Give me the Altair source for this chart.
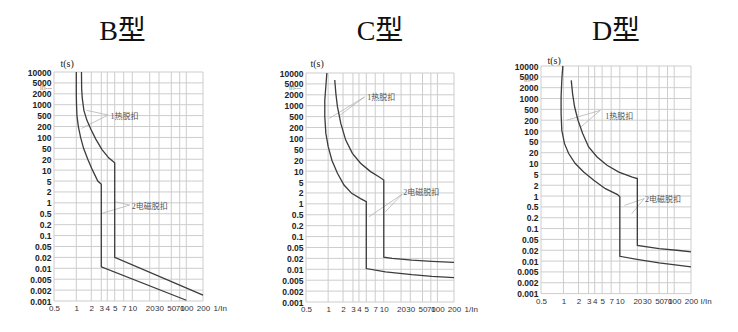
import altair as alt
import pandas as pd

# ---------------- data ----------------
X_TICKS = [0.5, 1, 2, 3, 4, 5, 7, 10, 20, 30, 50, 70, 100, 200]
Y_TICKS = [10000, 5000, 2000, 1000, 500, 200, 100, 50, 20, 10, 5, 2, 1,
           0.5, 0.2, 0.1, 0.05, 0.02, 0.01, 0.005, 0.002, 0.001]

TITLES = ["B型", "C型", "D型"]
X_TITLES = ["1/In", "1/In", "I/In"]
Y_TITLE = "t(s)"
LABEL_THERMAL = "1热脱扣"
LABEL_MAGNETIC = "2电磁脱扣"
IH_LABEL = "Ih---"

# B type curves
B_LOW_X = [1.0, 1.0, 1.01, 1.03, 1.1, 1.22, 1.4, 1.7, 2.1, 2.6, 3.0, 3.0, 100]
B_LOW_T = [10000, 2000, 1000, 500, 200, 100, 50, 20, 10, 5, 3.8, 0.011, 0.00105]
B_UP_X = [1.27, 1.28, 1.32, 1.42, 1.62, 1.95, 2.4, 3.1, 4.2, 5.0, 5.0, 200]
B_UP_T = [10000, 3000, 1500, 700, 350, 170, 90, 45, 22, 16, 0.02, 0.00145]

# C type curves
C_LOW_X = [0.96, 0.93, 0.9, 0.9, 0.93, 1.0, 1.19, 1.54, 2.08, 2.85, 4.2, 5.0, 5.0, 10.7, 32, 74, 200]
C_LOW_T = [10000, 4000, 1430, 500, 140, 60, 20, 8.7, 3.9, 1.95, 1.4, 1.15, 0.0105, 0.0085, 0.0071, 0.0064, 0.0059]
C_UP_X = [1.36, 1.43, 1.54, 1.8, 2.23, 2.93, 4.2, 5.87, 8.15, 10, 10, 14, 32, 74, 200]
C_UP_T = [6400, 2250, 940, 283, 90, 35.6, 16.5, 9.7, 7.0, 5.7, 0.022, 0.02, 0.0179, 0.0165, 0.0155]

# D type curves
D_LOW_X = [0.98, 0.95, 0.93, 0.93, 0.95, 1.05, 1.27, 1.72, 2.46, 3.83, 5.65, 9.1, 10, 10, 21, 50, 123, 200]
D_LOW_T = [10000, 3700, 1100, 350, 105, 43, 19, 10, 5.8, 3.06, 1.6, 1.1, 0.95, 0.0136, 0.011, 0.0089, 0.0076, 0.0069]
D_UP_X = [1.43, 1.52, 1.67, 1.95, 2.36, 3.0, 4.3, 6.0, 9.6, 16.4, 20, 20, 50, 123, 200]
D_UP_T = [3700, 1370, 580, 200, 85, 32.5, 15.2, 9.0, 5.8, 4.0, 3.5, 0.03, 0.023, 0.0197, 0.018]

# annotation anchor values (x = I/In, t = seconds)
B_TEXT_X = [4.4, 9.8]
B_TEXT_T = [440, 0.76]
B_LEAD_X1 = [4.1, 4.1, 9.0, 9.0]
B_LEAD_T1 = [520, 520, 0.87, 0.87]
B_LEAD_X2 = [1.6, 1.28, 5.05, 3.05]
B_LEAD_T2 = [700, 178, 1.07, 0.51]

C_TEXT_X = [5.2, 22]
C_TEXT_T = [1600, 1.95]
C_LEAD_X1 = [4.74, 4.74, 20.9, 20.9]
C_LEAD_T1 = [1740, 1740, 1.83, 1.83]
C_LEAD_X2 = [1.05, 1.64, 5.5, 10.7]
C_LEAD_T2 = [430, 520, 0.42, 0.61]

D_TEXT_X = [5.6, 28]
D_TEXT_T = [263, 0.76]
D_LEAD_X1 = [4.74, 4.74, 27, 27]
D_LEAD_T1 = [460, 460, 0.85, 0.85]
D_LEAD_X2 = [1.17, 2.2, 12, 16]
D_LEAD_T2 = [200, 130, 0.55, 0.28]

IH_T = [3200, 3530, 3720]

# ---------------- style ----------------
X_REL = [0, 22.3, 37.3, 47.3, 53.3, 60.7, 69.7, 78.3, 95.7, 105, 117.3, 125.7, 132.3, 149]
X_FRAC = [r / 149 for r in X_REL]

SERIF = "Liberation Serif, 'Noto Sans CJK SC', serif"
SANS = "Liberation Sans, Arial, sans-serif"
GRID = "#cdcdcd"
CURVE = "#3c3c3c"
LEAD = "#b4b4b4"


def panel(idx, low_x, low_t, up_x, up_t, text_x, text_t,
          lx1, lt1, lx2, lt2, w, h, y0, y1, title_dx, title_offset,
          ts_x, ts_y, ih_dx, xt_gap):
    xs = alt.Scale(type="log", domain=X_TICKS, range=[f * w for f in X_FRAC], nice=False)
    ys = alt.Scale(type="log", domain=Y_TICKS,
                   range=[y0 + i * (y1 - y0) / 21 for i in range(22)], nice=False)

    x_axis = alt.Axis(
        values=X_TICKS, format="~g", grid=False, ticks=False, domain=False,
        labelFont=SANS, labelFontSize=8, labelColor="#333", labelPadding=3,
        labelOverlap=False, labelBound=False, labelFlush=False,
        title=X_TITLES[idx], titleFont=SANS, titleFontSize=8,
        titleFontWeight="normal", titleColor="#333",
        titleX=w + xt_gap, titleY=3, titleAlign="left", titleBaseline="top")
    y_axis = alt.Axis(
        values=Y_TICKS, format="~g", grid=False, ticks=False, domain=False,
        labelFont=SANS, labelFontSize=8.5, labelFontWeight="bold",
        labelColor="#222", labelPadding=3, labelOverlap=False,
        labelBound=False, labelFlush=False,
        title=Y_TITLE, titleAngle=0, titleFont=SERIF, titleFontSize=10,
        titleFontWeight="normal", titleColor="#222",
        titleX=ts_x, titleY=ts_y, titleAlign="left", titleBaseline="middle")

    def X(f):
        return alt.X(f, scale=xs, axis=x_axis)

    def Y(f):
        return alt.Y(f, scale=ys, axis=y_axis)

    vgrid_df = pd.DataFrame({"x": X_TICKS, "ta": Y_TICKS[0], "tb": Y_TICKS[-1]})
    hgrid_df = pd.DataFrame({"t": Y_TICKS, "xa": X_TICKS[0], "xb": X_TICKS[-1]})

    vgrid = alt.Chart(vgrid_df).mark_rule(color=GRID, strokeWidth=1).encode(
        x=X("x:Q"), y=Y("ta:Q"), y2="tb:Q")
    hgrid = alt.Chart(hgrid_df).mark_rule(color=GRID, strokeWidth=1).encode(
        y=Y("t:Q"), x=X("xa:Q"), x2="xb:Q")

    rows = []
    for k, (xx, tt) in enumerate(zip(low_x, low_t)):
        rows.append({"curve": "low", "i": k, "x": xx, "t": tt})
    for k, (xx, tt) in enumerate(zip(up_x, up_t)):
        rows.append({"curve": "up", "i": k, "x": xx, "t": tt})
    curves = alt.Chart(pd.DataFrame(rows)).mark_line(
        color=CURVE, strokeWidth=1.3).encode(
        x=X("x:Q"), y=Y("t:Q"), detail="curve:N", order="i:Q")

    lead_df = pd.DataFrame({"x": lx1, "t": lt1, "x2": lx2, "t2": lt2})
    leaders = alt.Chart(lead_df).mark_rule(color=LEAD, strokeWidth=0.8).encode(
        x=X("x:Q"), y=Y("t:Q"), x2="x2:Q", y2="t2:Q")

    text_df = pd.DataFrame({"x": text_x, "t": text_t,
                            "label": [LABEL_THERMAL, LABEL_MAGNETIC]})
    texts = alt.Chart(text_df).mark_text(
        align="left", baseline="middle", font=SERIF, fontSize=8,
        color="#555").encode(x=X("x:Q"), y=Y("t:Q"), text="label:N")

    ih_df = pd.DataFrame({"x": [X_TICKS[0]], "t": [IH_T[idx]], "label": [IH_LABEL]})
    ih = alt.Chart(ih_df).mark_text(
        align="right", baseline="middle", font=SANS, fontSize=6.5,
        color="#777", dx=ih_dx).encode(x=X("x:Q"), y=Y("t:Q"), text="label:N")

    return alt.layer(hgrid, vgrid, leaders, curves, texts, ih).properties(
        width=w, height=h,
        title=alt.TitleParams(
            text=TITLES[idx], font=SERIF, fontSize=28, fontWeight="normal",
            color="#111", anchor="middle", frame="group", dx=title_dx,
            offset=title_offset, baseline="alphabetic"),
    )


pB = panel(0, B_LOW_X, B_LOW_T, B_UP_X, B_UP_T, B_TEXT_X, B_TEXT_T,
           B_LEAD_X1, B_LEAD_T1, B_LEAD_X2, B_LEAD_T2,
           w=149, h=229, y0=0, y1=229, title_dx=-6, title_offset=-10,
           ts_x=6, ts_y=-9, ih_dx=-2, xt_gap=10)
pC = panel(1, C_LOW_X, C_LOW_T, C_UP_X, C_UP_T, C_TEXT_X, C_TEXT_T,
           C_LEAD_X1, C_LEAD_T1, C_LEAD_X2, C_LEAD_T2,
           w=148, h=230, y0=1, y1=230, title_dx=0, title_offset=-10,
           ts_x=4, ts_y=-9, ih_dx=-5, xt_gap=10)
pD = panel(2, D_LOW_X, D_LOW_T, D_UP_X, D_UP_T, D_TEXT_X, D_TEXT_T,
           D_LEAD_X1, D_LEAD_T1, D_LEAD_X2, D_LEAD_T2,
           w=150, h=222, y0=-6, y1=221.6, title_dx=0, title_offset=-13,
           ts_x=6, ts_y=-12, ih_dx=-5, xt_gap=9)

inner = alt.hconcat(pC, pD, spacing=87, bounds="flush")
chart = alt.hconcat(pB, inner, spacing=103, bounds="flush").properties(
    padding={"left": 27, "top": 18, "right": 5, "bottom": 5},
    background="white",
).configure_view(stroke=None)

chart.save("out.html", embed_options={"renderer": "svg", "actions": False})
